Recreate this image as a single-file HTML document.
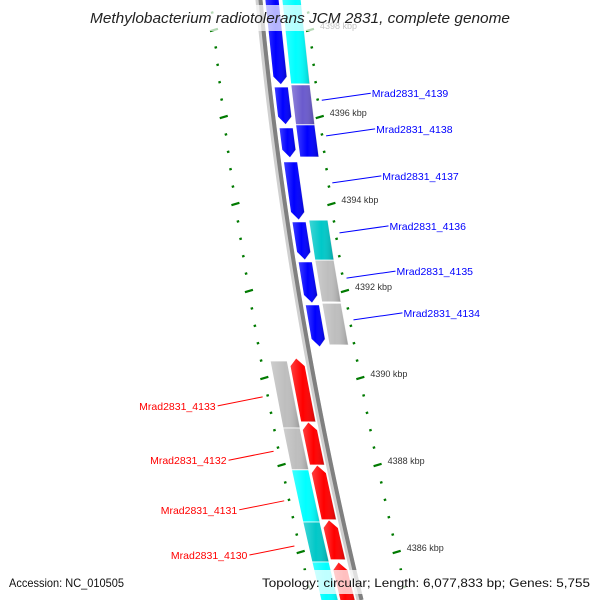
<!DOCTYPE html>
<html><head><meta charset="utf-8"><style>
html,body{margin:0;background:#fff;width:600px;height:600px;overflow:hidden}
svg{display:block;font-family:"Liberation Sans",sans-serif;overflow:hidden}
</style></head><body>
<svg id="map" width="600" height="600" viewBox="0 0 600 600" xmlns="http://www.w3.org/2000/svg">
<defs>
<linearGradient id="shade" x1="0" x2="1" y1="0" y2="0">
<stop offset="0" stop-color="#fff" stop-opacity="0.25"/><stop offset="0.5" stop-color="#fff" stop-opacity="0"/><stop offset="1" stop-color="#000" stop-opacity="0.2"/>
</linearGradient>
<clipPath id="frame"><rect x="0" y="0" width="600" height="600"/></clipPath>
</defs>
<g clip-path="url(#frame)">
<g id="ticks"></g>
<g id="backbone"></g>
<g id="genes"></g>
<g id="labels"></g>
</g>
<rect x="0" y="5" width="600" height="26" fill="#fff" fill-opacity="0.7"/>
<text x="90" y="23" textLength="420" lengthAdjust="spacingAndGlyphs" font-size="14.5" font-style="italic" fill="#222">Methylobacterium radiotolerans JCM 2831, complete genome</text>
<rect x="0" y="570" width="600" height="24" fill="#fff" fill-opacity="0.75"/>
<text x="9" y="587" textLength="115" lengthAdjust="spacingAndGlyphs" font-size="12" fill="#111">Accession: NC_010505</text>
<text x="262" y="587" textLength="328" lengthAdjust="spacingAndGlyphs" font-size="12" fill="#111">Topology: circular; Length: 6,077,833 bp; Genes: 5,755</text>
</svg>
<script>
const fwdStart=[4398.80,4396.69,4395.75,4394.97,4393.59,4392.67,4391.68];
const fwdEnd=[4396.74,4395.82,4395.06,4393.63,4392.71,4391.72,4390.71];
const revStart=[4390.46,4388.99,4388.00,4386.74,4385.77];
const revEnd=[4388.99,4388.00,4386.74,4385.82,4384.67];
const cogRStart=[4398.80,4396.74,4395.82,4393.63,4392.71,4391.72];
const cogREnd=[4396.76,4395.82,4395.08,4392.71,4391.75,4390.76];
const cogRColor=["#00ffff","#6a5acd","#0000ff","#00c8c8","#bebebe","#bebebe"];
const cogLStart=[4390.39,4388.85,4387.89,4386.69,4385.77];
const cogLEnd=[4388.85,4387.89,4386.69,4385.77,4384.67];
const cogLColor=["#bebebe","#bebebe","#00ffff","#00c8c8","#00ffff"];
const majorTicks=[4398,4396,4394,4392,4390,4388,4386];
const majorLabels=["4398 kbp","4396 kbp","4394 kbp","4392 kbp","4390 kbp","4388 kbp","4386 kbp"];
const fwdNames=["Mrad2831_4139","Mrad2831_4138","Mrad2831_4137","Mrad2831_4136","Mrad2831_4135","Mrad2831_4134"];
const fwdLabelPos=[4396.57,4395.75,4394.67,4393.52,4392.48,4391.52];
const revNames=["Mrad2831_4133","Mrad2831_4132","Mrad2831_4131","Mrad2831_4130"];
const revLabelPos=[4389.36,4388.11,4386.97,4385.93];

const NS="http://www.w3.org/2000/svg";
function yOf(k){return 30+(4398-k)*43.5;}
function xOf(y){return 259+0.0946*y+0.000123*y*y;}
function mk(tag,attrs,parent){const e=document.createElementNS(NS,tag);for(const a in attrs)e.setAttribute(a,attrs[a]);parent.appendChild(e);return e;}
const gT=document.getElementById('ticks'),gB=document.getElementById('backbone'),gG=document.getElementById('genes'),gL=document.getElementById('labels');

let pts=[];for(let y=-10;y<=600;y+=10)pts.push(xOf(y)+","+y);
let bb=mk('polyline',{points:pts.join(" "),fill:"none",stroke:"#d0d0d0","stroke-width":7},gB);

pts=[];for(let y=-10;y<=600;y+=10)pts.push((xOf(y)+1.5)+","+y);
let bb2=mk('polyline',{points:pts.join(" "),fill:"none",stroke:"#808080","stroke-width":4},gB);


for(let k=4399.2;k>=4384.4;k-=0.4){
  const kk=Math.round(k*10)/10;const y=yOf(kk);
  if(y>598)continue;
  const major=majorTicks.some(m=>Math.abs(m-kk)<0.01);
  [-48,48].forEach(off=>{
    const x=xOf(y)+off;const L=major?4:1.2;
    const t=mk('line',{x1:x-L,y1:y+L*0.3,x2:x+L,y2:y-L*0.3,stroke:"#007a00","stroke-width":2.2},gT);
    
    
  });
}
majorTicks.forEach((m,i)=>{const y=yOf(m);
  const t=mk('text',{x:xOf(y)+58,y:y-1,"font-size":9,fill:"#333"},gT);t.textContent=majorLabels[i];
  });

function block(s,e,o1,o2,color,dir,name){
  const y1=yOf(s),y2=yOf(e);let p;
  const xa=y=>xOf(y)+o1,xb=y=>xOf(y)+o2;
  if(dir===1){const yt=y2-8;p=[[xa(y1),y1],[xb(y1),y1],[xb(yt),yt],[(xa(y2)+xb(y2))/2,y2],[xa(yt),yt]];}
  else if(dir===-1){const yt=y1+8;p=[[(xa(y1)+xb(y1))/2,y1],[xb(yt),yt],[xb(y2),y2],[xa(y2),y2],[xa(yt),yt]];}
  else p=[[xa(y1),y1],[xb(y1),y1],[xb(y2),y2],[xa(y2),y2]];
  const ps=p.map(q=>q[0].toFixed(1)+","+q[1].toFixed(1)).join(" ");
  const a=mk('polygon',{points:ps,fill:color,stroke:"#fff","stroke-width":0.8},gG);
  
  const b=mk('polygon',{points:ps,fill:"url(#shade)"},gG);
  
}
fwdStart.forEach((s,i)=>block(s,fwdEnd[i],6,20,"#0000ff",1,'forward-gene'));
revStart.forEach((s,i)=>block(s,revEnd[i],-20,-5,"#ff0000",-1,'reverse-gene'));
cogRStart.forEach((s,i)=>block(s,cogREnd[i],23,42,cogRColor[i],0,'cog-forward'));
cogLStart.forEach((s,i)=>block(s,cogLEnd[i],-39,-22,cogLColor[i],0,'cog-reverse'));

fwdNames.forEach((n,i)=>{const y=yOf(fwdLabelPos[i]);const x0=xOf(y)+53;
  const l=mk('line',{x1:x0,y1:y+8,x2:x0+49,y2:y+1,stroke:"#0000ff","stroke-width":1},gL);
  
  const t=mk('text',{x:x0+50,y:y+5,"font-size":10.5,fill:"#0000ff"},gL);t.textContent=n;
  });
revNames.forEach((n,i)=>{const y=yOf(revLabelPos[i]);const x0=xOf(y)-55;
  const l=mk('line',{x1:x0,y1:y-9,x2:x0-45,y2:y,stroke:"#ff0000","stroke-width":1},gL);
  
  const t=mk('text',{x:x0-47,y:y+4,"font-size":10.5,fill:"#ff0000","text-anchor":"end"},gL);t.textContent=n;
  });
</script>
</body></html>
